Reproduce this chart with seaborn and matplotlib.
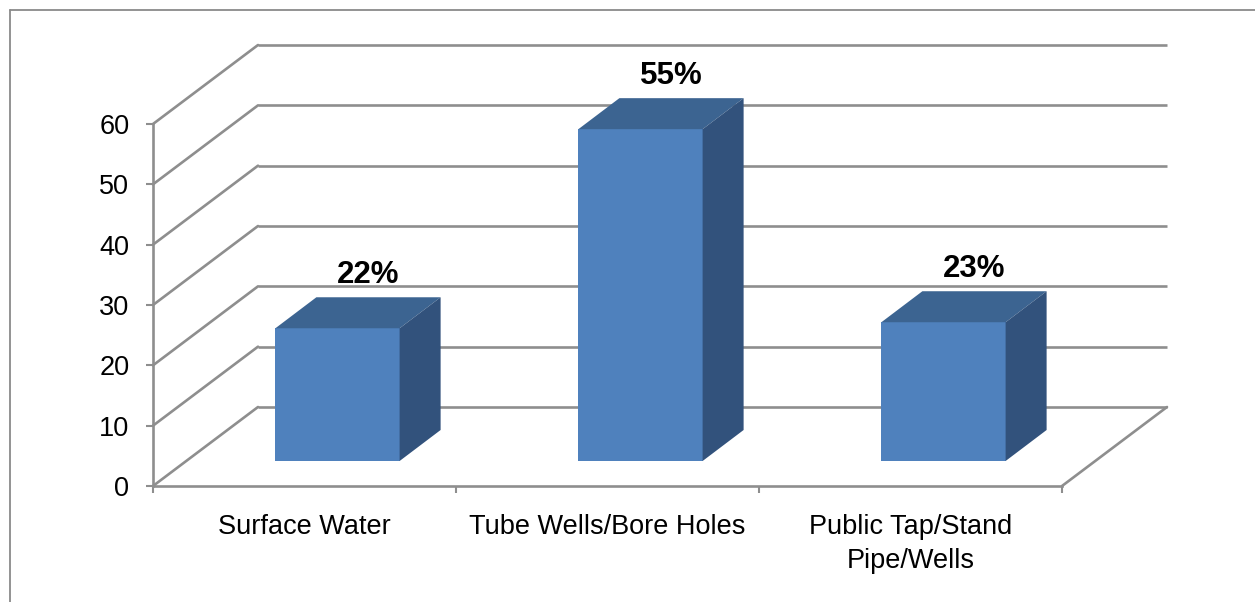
import matplotlib
matplotlib.use("Agg")
import matplotlib.pyplot as plt
import seaborn as sns
import pandas as pd
from matplotlib.patches import Polygon
from matplotlib.lines import Line2D

categories = ["Surface Water", "Tube Wells/Bore Holes", "Public Tap/Stand\nPipe/Wells"]
values = [22, 55, 23]
yticks = [0, 10, 20, 30, 40, 50, 60]
labels = [f"{v}%" for v in values]

sns.set_theme(style="white")
plt.rcParams['font.family'] = ['Liberation Sans', 'DejaVu Sans']

W, H = 1255, 602
fig = plt.figure(figsize=(W / 100, H / 100), dpi=100)
ax = fig.add_axes([153 / W, (H - 486) / H, 909 / W, 362 / H])

FRONT = '#4F81BD'
TOP = '#3C6491'
SIDE = '#32527C'
GRID = '#8E8E8E'

df = pd.DataFrame({"cat": categories, "val": values})
sns.barplot(data=df, x="cat", y="val", color=FRONT, width=0.41, saturation=1,
            ax=ax, zorder=3)
ax.set_xlim(-0.5, 2.5)
ax.set_ylim(0, 60)

# oblique depth geometry (pixels -> data units)
px_x = 909 / 3
px_y = 362 / 60
DX, DY = 105 / px_x, 79 / px_y     # wall depth
FX, FY = 33 / px_x, 25 / px_y      # bar front-face offset
BX, BY = 41 / px_x, 31 / px_y      # bar depth

# walls / gridlines
for v in yticks:
    ax.plot([-0.5 + DX, 2.5 + DX], [v + DY, v + DY], color=GRID, lw=1.9,
            clip_on=False, zorder=1, solid_capstyle='butt')
    ax.plot([-0.5, -0.5 + DX], [v, v + DY], color=GRID, lw=1.9,
            clip_on=False, zorder=1)
ax.plot([2.5, 2.5 + DX], [0, DY], color=GRID, lw=1.9, clip_on=False, zorder=1)

# 3D bars
for p, lab in zip(list(ax.patches), labels):
    x0, w, h = p.get_x(), p.get_width(), p.get_height()
    p.set_x(x0 + FX)
    p.set_y(FY)
    p.set_clip_on(False)
    p.set_edgecolor('none')
    xa, xb = x0 + FX, x0 + FX + w
    top = Polygon([(xa, h + FY), (xb, h + FY), (xb + BX, h + FY + BY), (xa + BX, h + FY + BY)],
                  closed=True, facecolor=TOP, edgecolor='none', zorder=3, clip_on=False)
    side = Polygon([(xb, FY), (xb + BX, FY + BY), (xb + BX, h + FY + BY), (xb, h + FY)],
                   closed=True, facecolor=SIDE, edgecolor='none', zorder=3, clip_on=False)
    ax.add_patch(top)
    ax.add_patch(side)
    cx = x0 + FX + w / 2 + BX / 2
    cy = h + FY + BY / 2
    ax.annotate(lab, xy=(cx, cy), xytext=(10, 38), textcoords='offset pixels',
                ha='center', va='center', fontsize=22.5, fontweight='bold',
                color='black', annotation_clip=False)

# axes styling
for s in ['top', 'right']:
    ax.spines[s].set_visible(False)
for s in ['left', 'bottom']:
    ax.spines[s].set_color(GRID)
    ax.spines[s].set_linewidth(1.9)
    ax.spines[s].set_zorder(2)

ax.set_yticks(yticks)
ax.set_yticklabels([str(t) for t in yticks])
ax.set_xticks([-0.5, 0.5, 1.5, 2.5])
ax.set_xticklabels([])
ax.set_xticks([0, 1, 2], minor=True)
ax.set_xticklabels(categories, minor=True, linespacing=1.4)
ax.tick_params(axis='both', which='major', length=5, width=1.5, color=GRID,
               direction='out', labelsize=19.5, pad=12, labelcolor='black',
               bottom=True, left=True)
ax.tick_params(axis='x', which='minor', length=0, pad=20, labelsize=19.5,
               labelcolor='black', bottom=True)
ax.set_xlabel('')
ax.set_ylabel('')
ax.set_facecolor('none')

# outer frame
fig.add_artist(Line2D([9.5 / W, 1], [1 - 9.5 / H, 1 - 9.5 / H], transform=fig.transFigure,
                      color='#8A8A8A', lw=1.3))
fig.add_artist(Line2D([9.5 / W, 9.5 / W], [0, 1 - 9.5 / H], transform=fig.transFigure,
                      color='#8A8A8A', lw=1.3))

fig.savefig('out.png', dpi=100)
